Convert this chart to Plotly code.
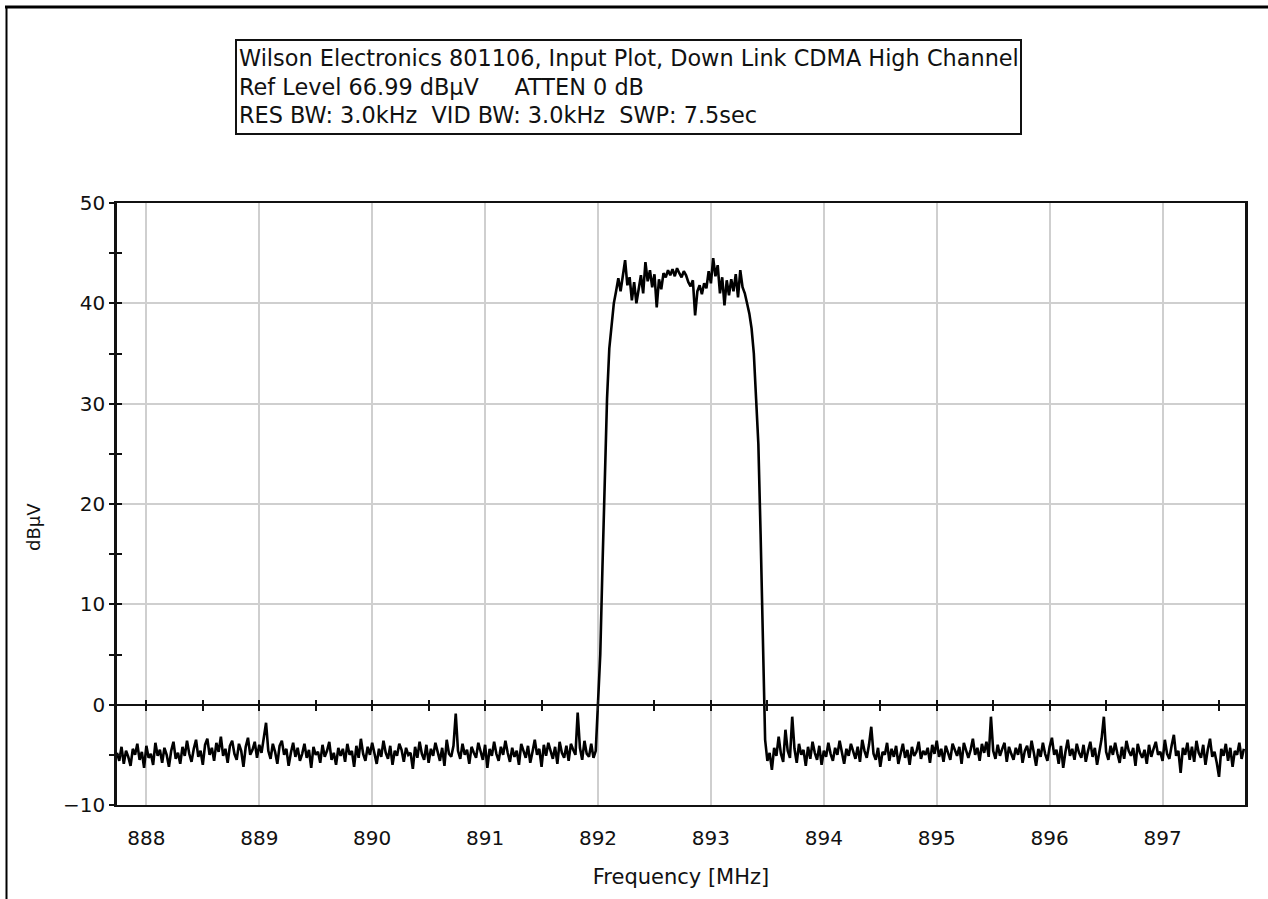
import numpy as np
import plotly.graph_objects as go

# ---- data ----
start_freq_mhz = 887.74
step_mhz = 0.02

noise_left = [
    -4.8, -5.6, -4.2, -5.9, -4.6, -5.2, -6.1, -4.4, -5.0, -3.9,
    -5.5, -4.7, -6.3, -4.1, -5.3, -4.9, -6.0, -3.8, -5.1, -4.5,
    -5.8, -4.3, -5.0, -6.2, -4.6, -3.7, -5.4, -4.8, -5.9, -4.2,
    -5.1, -3.6, -4.9, -5.7, -4.4, -3.5, -5.2, -4.6, -6.0, -4.0,
    -3.4, -5.0, -4.3, -5.6, -3.8, -4.7, -3.2, -5.1, -4.4, -5.8,
    -4.1, -3.6, -4.9, -5.5, -3.9, -4.6, -6.2, -4.2, -3.3, -5.0,
    -4.5, -3.7, -5.3, -4.0, -4.8, -3.5, -1.8, -4.6, -5.4, -3.9,
    -4.7, -5.9, -4.1, -3.6, -5.0, -4.4, -6.1, -4.8, -3.8, -5.2,
    -4.3, -5.6, -4.9, -3.9, -5.3, -4.5, -6.3, -4.2, -5.0, -4.7,
    -5.8, -4.0, -5.2, -4.6, -3.7, -5.5, -4.8, -6.0, -4.3, -5.1,
    -4.4, -5.7, -3.9, -5.0, -4.6, -6.2, -4.1, -5.3, -3.4, -4.9,
    -5.6, -4.2, -5.0, -3.8, -4.7, -5.9, -4.4, -5.2, -3.6, -4.8,
    -5.4, -4.1, -6.0, -4.6, -5.1, -3.9, -4.5, -5.7, -4.3, -5.0,
    -4.8, -6.4, -4.2, -5.3, -3.7, -4.9, -5.5, -4.0, -5.8, -4.4,
    -5.1, -3.8, -4.7, -5.6, -4.3, -6.1, -3.5, -4.9, -5.2, -4.1,
    -0.9, -4.6, -5.4, -3.9, -5.0, -4.5, -5.9, -4.2, -4.8, -5.3,
    -3.8, -4.7, -5.5, -4.0, -6.3, -4.4, -5.1, -3.7, -4.9, -5.6,
    -4.2, -5.0, -3.6, -4.8, -5.7, -4.3, -5.2, -4.6, -6.0, -3.9,
    -4.5, -5.3, -4.1, -5.8, -4.7, -3.5, -5.0, -4.4, -6.2, -4.0,
    -5.1, -3.8, -4.6, -5.4, -4.2, -5.9, -3.7, -4.8, -5.3, -4.1,
    -5.6, -3.9, -4.5, -5.0, -0.8, -4.3, -5.5, -3.6, -4.9, -5.2,
    -3.9, -5.3, -4.6,
]
rise_edge = [0.5, 5.0, 14.0, 23.0, 30.5, 35.5, 38.0, 40.0, 41.2]
channel_top = [
    42.5, 41.2, 43.0, 44.3, 41.8, 42.6, 40.3, 42.1, 40.0, 41.5,
    42.8, 41.0, 44.1, 42.2, 43.3, 41.6, 42.9, 39.6, 42.4, 41.4,
    43.0, 42.6, 43.3, 42.8, 43.4, 42.7, 43.5, 43.0, 42.6, 43.2,
    42.8, 42.1, 41.7, 42.3, 38.8, 41.2, 41.8, 40.9, 42.0, 41.5,
    43.2, 42.0, 44.5, 42.7, 43.8, 41.0, 42.6, 39.8, 42.3, 40.8,
    42.4, 41.2, 42.9, 40.6, 43.3, 41.6,
]
fall_edge = [41.0, 40.0, 39.0, 37.5, 35.0, 30.5, 26.0, 17.0, 6.0, -3.5]
noise_right = [
    -5.6, -4.8, -6.5, -4.3, -5.1, -3.2, -4.9, -5.7, -2.5, -4.6,
    -5.3, -1.2, -4.4, -5.8, -3.9, -5.0, -4.5, -6.1, -4.2, -5.4,
    -3.7, -4.8, -5.5, -4.1, -6.0, -4.6, -5.2, -3.8, -4.9, -5.6,
    -4.3, -5.0, -3.6, -4.7, -5.9, -4.4, -5.1, -3.9, -4.8, -5.4,
    -4.2, -5.7, -3.5, -4.6, -5.3, -4.0, -2.2, -4.9, -5.5, -4.3,
    -6.2, -4.7, -5.0, -3.8, -5.6, -4.4, -5.2, -4.1, -5.9, -4.8,
    -3.9, -5.3, -4.5, -6.0, -4.2, -5.1, -4.7, -3.7, -5.4, -4.6,
    -5.0, -4.3, -5.8, -4.0, -4.9, -3.6, -5.2, -4.4, -5.7, -4.1,
    -4.8, -5.5, -3.9, -4.6, -5.1, -4.2, -5.9, -3.8, -4.7, -5.3,
    -4.5, -3.4, -5.0, -4.3, -5.6, -3.9, -4.8, -3.7, -5.2, -1.2,
    -4.6, -5.4, -4.0, -5.1, -4.4, -3.8, -5.7, -4.2, -4.9, -5.5,
    -4.3, -5.0, -3.9, -5.8, -4.6, -4.1, -5.3, -3.6, -4.8, -6.1,
    -4.4, -5.2, -3.8, -4.9, -5.6, -4.2, -3.3, -5.0, -4.5, -5.9,
    -4.1, -6.3, -4.7, -3.5, -5.1, -4.4, -5.5, -3.9, -4.8, -5.3,
    -4.0, -5.7, -4.6, -3.7, -5.2, -4.3, -6.0, -4.8, -3.4, -1.2,
    -4.7, -5.5, -4.1, -5.0, -3.8, -4.9, -5.8, -4.2, -5.4, -3.6,
    -4.6, -5.1, -4.3, -6.1, -3.9, -4.8, -5.3, -4.5, -5.9, -4.0,
    -5.2, -4.4, -3.7, -5.0, -4.7, -5.6, -3.5, -4.9, -5.4, -4.1,
    -3.0, -5.1, -4.6, -6.8, -4.3, -5.0, -3.8, -5.5, -4.2, -5.7,
    -3.6, -4.8, -5.3, -4.0, -6.0, -4.5, -3.4, -5.2, -4.7, -5.8,
    -7.2, -4.4, -5.1, -3.9, -5.6, -4.3, -6.2, -4.6, -5.0, -3.8,
    -5.4, -4.4,
]

x_tick_vals = [888, 889, 890, 891, 892, 893, 894, 895, 896, 897]
y_tick_vals = [-10, 0, 10, 20, 30, 40, 50]

title_lines = [
    "Wilson Electronics 801106, Input Plot, Down Link CDMA High Channel",
    "Ref Level 66.99 dBµV     ATTEN 0 dB",
    "RES BW: 3.0kHz  VID BW: 3.0kHz  SWP: 7.5sec",
]
x_title = "Frequency [MHz]"
y_title = "dBµV"

level_dbuv = noise_left + rise_edge + channel_top + fall_edge + noise_right
freq_mhz = start_freq_mhz + step_mhz * np.arange(len(level_dbuv))

x_range = [887.74, 897.73]
y_range = [-10, 50]

FONT = "DejaVu Sans, Verdana, sans-serif"

fig = go.Figure()
fig.add_trace(go.Scatter(x=freq_mhz, y=level_dbuv, mode="lines",
                         line=dict(color="black", width=2.6), showlegend=False,
                         hoverinfo="skip"))
# helper empty traces so overlay axes render
fig.add_trace(go.Scatter(x=[], y=[], xaxis="x2", yaxis="y2", showlegend=False))
fig.add_trace(go.Scatter(x=[], y=[], xaxis="x3", yaxis="y2", showlegend=False))

zero_pos = (0 - y_range[0]) / (y_range[1] - y_range[0])

fig.update_layout(
    width=1268, height=899,
    margin=dict(l=117, r=23, t=203, b=94),
    paper_bgcolor="white", plot_bgcolor="white",
    font=dict(family=FONT, color="#111111", size=21),
    xaxis=dict(range=x_range, tickvals=x_tick_vals, showgrid=True,
               gridcolor="#cfcfcf", gridwidth=2, showline=True, linecolor="#111",
               linewidth=2, mirror=True, ticks="", zeroline=False,
               ticklabelstandoff=14,
               title=dict(text=x_title, font=dict(size=21), standoff=20),
               tickfont=dict(size=20)),
    yaxis=dict(range=y_range, tickvals=y_tick_vals, showgrid=True,
               gridcolor="#cfcfcf", gridwidth=2, showline=True, linecolor="#111",
               linewidth=2.5, mirror=True, ticks="outside", ticklen=5,
               tickcolor="#111", tickwidth=2, zeroline=False,
               minor=dict(dtick=5, tick0=0, ticks="outside", ticklen=5,
                          tickcolor="#111", tickwidth=2, showgrid=False),
               tickfont=dict(size=20)),
    yaxis2=dict(range=y_range, overlaying="y", anchor="x", side="left",
                tickvals=y_tick_vals, showgrid=False, showticklabels=False,
                ticks="inside", ticklen=5, tickcolor="#111", tickwidth=2,
                zeroline=False, showline=False,
                minor=dict(dtick=5, tick0=0, ticks="inside", ticklen=5,
                           tickcolor="#111", tickwidth=2, showgrid=False)),
    xaxis2=dict(range=x_range, overlaying="x", anchor="free", position=zero_pos,
                dtick=0.5, tick0=888, showgrid=False, showticklabels=False,
                ticks="outside", ticklen=5, tickcolor="#111", tickwidth=2,
                showline=True, linecolor="#111", linewidth=2, zeroline=False),
    xaxis3=dict(range=x_range, overlaying="x", anchor="free", position=zero_pos,
                dtick=0.5, tick0=888, showgrid=False, showticklabels=False,
                ticks="inside", ticklen=5, tickcolor="#111", tickwidth=2,
                showline=False, zeroline=False),
)

# pixel -> paper helpers (plot area 117..1245 x 203..805)
pw, ph = 1128.0, 602.0
def px_to_paper_x(px):
    return (px - 117) / pw
def px_to_paper_y(py):
    return (805 - py) / ph

# y axis title
fig.add_annotation(xref="paper", yref="paper", x=px_to_paper_x(33), y=px_to_paper_y(527),
                   xanchor="center", yanchor="middle", text=y_title, textangle=-90,
                   showarrow=False, font=dict(size=18, family=FONT, color="#111"))

# title box
fig.add_shape(type="rect", xref="paper", yref="paper",
              x0=px_to_paper_x(236), x1=px_to_paper_x(1021),
              y0=px_to_paper_y(134), y1=px_to_paper_y(40),
              line=dict(color="#111", width=2), fillcolor="white", layer="above")
for i, line_txt in enumerate(title_lines):
    fig.add_annotation(xref="paper", yref="paper",
                       x=px_to_paper_x(237), y=px_to_paper_y(58 + 28.5 * i),
                       xanchor="left", yanchor="middle", text=line_txt,
                       showarrow=False, font=dict(size=22.4, family=FONT, color="#111"))

# page frame lines
fig.add_shape(type="line", xref="paper", yref="paper",
              x0=px_to_paper_x(5), x1=px_to_paper_x(1268),
              y0=px_to_paper_y(7), y1=px_to_paper_y(7),
              line=dict(color="black", width=3))
fig.add_shape(type="line", xref="paper", yref="paper",
              x0=px_to_paper_x(6.5), x1=px_to_paper_x(6.5),
              y0=px_to_paper_y(6), y1=px_to_paper_y(899),
              line=dict(color="black", width=2))

fig.write_html("out.html")
